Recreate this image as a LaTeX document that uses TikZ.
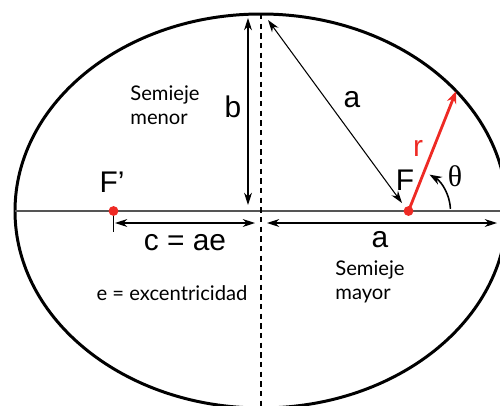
\documentclass[tikz,border=0pt]{standalone}
\usepackage{fontspec}
\setmainfont{Liberation Sans}
\newfontfamily\labelfont{Lato}
\newfontfamily\greekfont{Liberation Serif}
\usetikzlibrary{arrows.meta, calc}
\definecolor{focusred}{HTML}{EE2A24}
\definecolor{axisgray}{HTML}{555555}

\tikzset{
  dim/.style={{Stealth[length=7pt, width=4.5pt]}-{Stealth[length=7pt, width=4.5pt]}, line width=0.6pt},
  biglabel/.style={font=\fontsize{17}{17}\selectfont},
  smalllabel/.style={font=\labelfont\fontsize{11.5}{14}\selectfont, align=left}
}

\begin{document}
\begin{tikzpicture}[>=Stealth]
  \useasboundingbox (0,0) rectangle (10,8.1);
  \clip (0,0) rectangle (10,8.1);

  % ellipse and axes
  \coordinate (O) at (5.22,3.88);
  \coordinate (F) at ($(O)+(2.95,0)$);
  \coordinate (Fp) at ($(O)-(2.95,0)$);
  \coordinate (T) at ($(O)+(0,3.94)$);
  \coordinate (B) at ($(O)-(0,3.94)$);
  \coordinate (L) at ($(O)-(4.92,0)$);
  \coordinate (R) at (10,3.88);
  \coordinate (P) at ($(O)+({4.92*cos(37.5)},{3.94*sin(37.5)})$);
  \draw[line width=1.7pt] (O) ellipse (4.92 and 3.94);
  \draw[axisgray, line width=1.1pt] (L) -- (R);
  \draw[line width=0.9pt, dash pattern=on 3pt off 2.5pt] (T) -- (B);

  % semieje menor
  \coordinate (b1) at (4.96,7.74);
  \coordinate (b2) at (4.96,4.0);
  \draw[dim] (b1) -- (b2);
  \node[biglabel] (blabel) at (4.66,5.96) {b};
  \node[smalllabel] (menor) at (3.3,6.0) {Semieje\\menor};

  % distancia a desde el extremo superior
  \coordinate (a1) at (5.36,7.70);
  \coordinate (a2) at (8.04,4.04);
  \draw[dim] (a1) -- (a2);
  \node[biglabel] (alabel) at (7.04,6.1) {a};

  % c = ae y semieje mayor
  \coordinate (c1) at (2.30,3.64);
  \coordinate (c2) at (5.10,3.64);
  \coordinate (m1) at (5.34,3.64);
  \coordinate (m2) at (9.94,3.64);
  \draw[dim] (c1) -- (c2);
  \draw[line width=0.8pt] ($(Fp)+(0,-0.10)$) -- ($(Fp)+(0,-0.42)$);
  \draw[dim] (m1) -- (m2);
  \node[biglabel] (clabel) at (3.7,3.24) {c = ae};
  \node[biglabel] (mlabel) at (7.6,3.3) {a};
  \node[smalllabel] (mayor) at (7.4,2.46) {Semieje\\mayor};
  \node[smalllabel] (exc) at (3.44,2.24) {e = excentricidad};

  % radio vector r y angulo
  \draw[focusred, line width=1.6pt, -{Stealth[length=7pt, width=5.5pt]}] (F) -- (P);
  \draw[line width=0.9pt, -{Stealth[length=7pt, width=5pt]}] ($(F)+(3:0.84)$) arc (3:60:0.84);
  \node[biglabel, text=focusred] (rlabel) at (8.36,5.14) {r};
  \node[font=\greekfont\fontsize{17}{17}\selectfont] (theta) at (9.1,4.58) {θ};

  % focos
  \fill[focusred] (F) circle (2.8pt);
  \fill[focusred] (Fp) circle (2.8pt);
  \node[biglabel] (Flabel) at (8.1,4.5) {F};
  \node[biglabel] (Fplabel) at (2.24,4.46) {F’};
\end{tikzpicture}
\end{document}
